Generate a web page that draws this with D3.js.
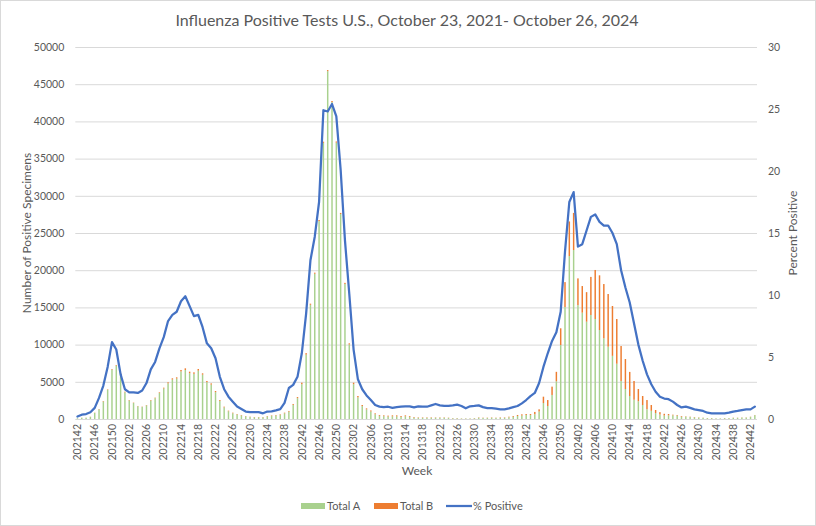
<!DOCTYPE html>
<html>
<head>
<meta charset="utf-8">
<script src="https://cdn.jsdelivr.net/npm/d3@7"></script>
<style>
  body { margin: 0; background: #fff; }
  svg text { font-family: Lato, "Open Sans", sans-serif; fill: #595959; }
</style>
</head>
<body>
<svg id="chart" width="816" height="526"></svg>
<script>
// weeks: [year, first week, last week]
const weekRanges = [[2021, 42, 52], [2022, 1, 52], [2023, 1, 52], [2024, 1, 43]];

// x tick labels as printed (every 4th week; note the 201318 typo in the original)
const tickLabels = ['202142', '202146', '202150', '202202', '202206', '202210', '202214', '202218',
  '202222', '202226', '202230', '202234', '202238', '202242', '202246', '202250', '202302', '202306',
  '202310', '202314', '201318', '202322', '202326', '202330', '202334', '202338', '202342', '202346',
  '202350', '202402', '202406', '202410', '202414', '202418', '202422', '202426', '202430', '202434',
  '202438', '202442'];

const totalA = [
  100, 170, 170, 290, 820, 1300, 2360, 3930, 6640, 7170, 6020, 3580, 2490, 2150, 1710, 1620,
  1830, 2480, 2790, 3490, 4100, 4790, 5300, 5430, 6390, 6590, 6160, 6070, 6500, 5960, 4950, 4620,
  3610, 2430, 1560, 1040, 770, 600, 480, 350, 270, 230, 230, 230, 340, 430, 470, 560,
  760, 980, 1900, 2800, 4680, 8650, 15350, 19520, 26600, 37120, 46750, 42590, 37150, 27550, 18150, 10020,
  4680, 2910, 1730, 1290, 1010, 640, 430, 380, 330, 350, 340, 280, 360, 290, 190, 160,
  160, 160, 160, 170, 170, 170, 140, 100, 100, 70, 70, 70, 100, 170, 140, 140,
  170, 140, 160, 160, 230, 290, 400, 460, 540, 540, 640, 1000, 2150, 1750, 3230, 5070,
  9950, 15050, 21900, 22710, 15300, 14290, 13080, 13980, 13440, 11960, 10840, 9720, 8490, 7430, 5110, 4030,
  3090, 2590, 2380, 1880, 1320, 1100, 800, 600, 470, 490, 490, 450, 310, 310, 270, 220,
  180, 150, 110, 110, 80, 80, 110, 110, 150, 150, 190, 190, 280, 510
];

const totalB = [
  0, 10, 10, 20, 30, 40, 60, 60, 80, 90, 120, 90, 60, 50, 40, 40,
  50, 70, 80, 90, 110, 140, 170, 170, 200, 220, 200, 200, 220, 180, 160, 170,
  150, 120, 100, 80, 80, 70, 60, 50, 40, 40, 40, 40, 60, 60, 70, 70,
  90, 100, 120, 150, 200, 200, 150, 150, 150, 150, 150, 150, 150, 150, 150, 150,
  200, 180, 150, 140, 140, 120, 110, 110, 120, 140, 150, 120, 130, 110, 80, 60,
  60, 60, 60, 50, 50, 50, 40, 30, 30, 20, 20, 20, 30, 50, 40, 40,
  50, 40, 60, 60, 80, 110, 140, 170, 130, 130, 310, 300, 850, 800, 1120, 1270,
  2240, 3350, 4650, 4990, 3600, 3580, 3970, 5120, 6590, 7350, 7300, 7080, 6700, 6010, 4700, 4030,
  3240, 2520, 1650, 1210, 1230, 780, 410, 320, 230, 180, 90, 90, 90, 50, 40, 50,
  40, 30, 20, 20, 10, 10, 20, 20, 30, 30, 30, 30, 30, 30
];

const pctPositive = [
  0.2, 0.35, 0.4, 0.55, 0.9, 1.7, 2.7, 4.2, 6.2, 5.6, 3.6, 2.4, 2.15, 2.15, 2.1, 2.3,
  2.9, 4.0, 4.6, 5.7, 6.6, 7.9, 8.4, 8.65, 9.5, 9.9, 9.1, 8.3, 8.4, 7.4, 6.1, 5.7,
  4.9, 3.4, 2.4, 1.8, 1.4, 1.0, 0.8, 0.6, 0.56, 0.56, 0.56, 0.46, 0.6, 0.62, 0.7, 0.8,
  1.3, 2.5, 2.75, 3.4, 5.3, 8.5, 12.8, 14.7, 17.5, 24.9, 24.8, 25.4, 24.4, 20.1, 14.4, 10.1,
  5.6, 3.2, 2.4, 1.9, 1.53, 1.13, 1.0, 0.96, 0.99, 0.9, 0.96, 0.99, 1.02, 1.02, 0.94, 1.02,
  0.99, 0.99, 1.1, 1.21, 1.1, 1.05, 1.05, 1.1, 1.16, 1.05, 0.86, 1.02, 1.05, 1.1, 0.96, 0.88,
  0.88, 0.83, 0.78, 0.78, 0.86, 0.96, 1.05, 1.26, 1.53, 1.85, 2.1, 2.9, 4.2, 5.3, 6.3, 7.0,
  8.65, 13.5, 17.5, 18.3, 13.9, 14.1, 15.2, 16.3, 16.5, 15.9, 15.6, 15.6, 15.0, 14.1, 12.0, 10.6,
  9.4, 7.7, 6.0, 4.7, 3.6, 2.8, 2.2, 1.8, 1.65, 1.6, 1.4, 1.13, 0.93, 1.0, 0.9, 0.78,
  0.72, 0.65, 0.51, 0.46, 0.46, 0.46, 0.46, 0.51, 0.6, 0.65, 0.72, 0.78, 0.78, 1.0
];

const weeks = [];
weekRanges.forEach(([yr, w0, w1]) => {
  for (let w = w0; w <= w1; w++) weeks.push(`${yr}${String(w).padStart(2, '0')}`);
});

const data = weeks.map((wk, i) => ({ week: wk, a: totalA[i], b: totalB[i], pct: pctPositive[i] }));

const svg = d3.select('#chart');
const W = 816, H = 526;
const plot = { left: 75.3, right: 757, top: 47, bottom: 419 };

const GREEN = '#A9D18E', ORANGE = '#ED7D31', BLUE = '#4472C4', GRID = '#D9D9D9';

// chart border
svg.append('rect')
  .attr('x', 0.5).attr('y', 0.5)
  .attr('width', W - 1).attr('height', H - 1)
  .attr('fill', '#fff').attr('stroke', GRID);

const x = d3.scaleBand().domain(weeks).range([plot.left, plot.right]).paddingInner(0.66).paddingOuter(0.33);
const yL = d3.scaleLinear().domain([0, 50000]).range([plot.bottom, plot.top]);
const yR = d3.scaleLinear().domain([0, 30]).range([plot.bottom, plot.top]);

// gridlines
svg.append('g')
  .selectAll('line')
  .data(yL.ticks(10))
  .enter()
  .append('line')
  .attr('x1', plot.left).attr('x2', plot.right)
  .attr('y1', d => yL(d) + 0.5).attr('y2', d => yL(d) + 0.5)
  .attr('stroke', GRID).attr('stroke-width', 1);

// left axis
const leftAxis = svg.append('g')
  .attr('transform', `translate(${plot.left - 8},0)`)
  .call(d3.axisLeft(yL).ticks(10).tickFormat(d3.format('d')).tickSize(0));
leftAxis.select('.domain').remove();
leftAxis.selectAll('text').style('font-size', '10.5px').attr('dx', 0);

// right axis
const rightAxis = svg.append('g')
  .attr('transform', `translate(${plot.right + 8},0)`)
  .call(d3.axisRight(yR).ticks(6).tickSize(0));
rightAxis.select('.domain').remove();
rightAxis.selectAll('text').style('font-size', '10.5px');

// bottom axis
const tickWeeks = weeks.filter((d, i) => i % 4 === 0);
const bottomAxis = svg.append('g')
  .attr('transform', `translate(0,${plot.bottom})`)
  .call(d3.axisBottom(x).tickValues(tickWeeks).tickFormat((d, i) => tickLabels[i]).tickSize(0));
bottomAxis.select('.domain').remove();
bottomAxis.selectAll('text')
  .style('font-size', '10.5px')
  .attr('text-anchor', 'end')
  .attr('transform', 'rotate(-90)')
  .attr('x', -5)
  .attr('y', 0)
  .attr('dy', '0.35em');

// stacked bars
const bars = svg.append('g');
bars.selectAll('rect.a')
  .data(data)
  .enter()
  .append('rect')
  .attr('class', 'a')
  .attr('x', d => x(d.week))
  .attr('width', x.bandwidth())
  .attr('y', d => yL(d.a))
  .attr('height', d => yL(0) - yL(d.a))
  .attr('fill', GREEN);
bars.selectAll('rect.b')
  .data(data)
  .enter()
  .append('rect')
  .attr('class', 'b')
  .attr('x', d => x(d.week))
  .attr('width', x.bandwidth())
  .attr('y', d => yL(d.a + d.b))
  .attr('height', d => yL(d.a) - yL(d.a + d.b))
  .attr('fill', ORANGE);

// percent positive line
const line = d3.line()
  .x(d => x(d.week) + x.bandwidth() / 2)
  .y(d => yR(d.pct));
svg.append('path')
  .datum(data)
  .attr('d', line)
  .attr('fill', 'none')
  .attr('stroke', BLUE)
  .attr('stroke-width', 2.25)
  .attr('stroke-linejoin', 'round')
  .attr('stroke-linecap', 'round');

// titles
svg.append('text')
  .attr('x', 407).attr('y', 26)
  .attr('text-anchor', 'middle')
  .style('font-size', '16px')
  .text('Influenza Positive Tests U.S., October 23, 2021- October 26, 2024');

svg.append('text')
  .attr('transform', 'translate(31,233) rotate(-90)')
  .attr('text-anchor', 'middle')
  .style('font-size', '12px')
  .text('Number of Positive Specimens');

svg.append('text')
  .attr('transform', 'translate(797,233) rotate(-90)')
  .attr('text-anchor', 'middle')
  .style('font-size', '12px')
  .text('Percent Positive');

svg.append('text')
  .attr('x', 417).attr('y', 475)
  .attr('text-anchor', 'middle')
  .style('font-size', '12px')
  .text('Week');

// legend
const legendItems = [
  { label: 'Total A', color: GREEN, type: 'rect', x: 301 },
  { label: 'Total B', color: ORANGE, type: 'rect', x: 374 },
  { label: '% Positive', color: BLUE, type: 'line', x: 446 }
];
const legend = svg.append('g');
legendItems.forEach(item => {
  if (item.type === 'rect') {
    legend.append('rect')
      .attr('x', item.x).attr('y', 503)
      .attr('width', 24).attr('height', 6)
      .attr('fill', item.color);
  } else {
    legend.append('line')
      .attr('x1', item.x).attr('x2', item.x + 26)
      .attr('y1', 506).attr('y2', 506)
      .attr('stroke', item.color).attr('stroke-width', 2.25);
  }
  legend.append('text')
    .attr('x', item.x + (item.type === 'rect' ? 26 : 27))
    .attr('y', 510)
    .style('font-size', '11px')
    .text(item.label);
});
</script>
</body>
</html>
